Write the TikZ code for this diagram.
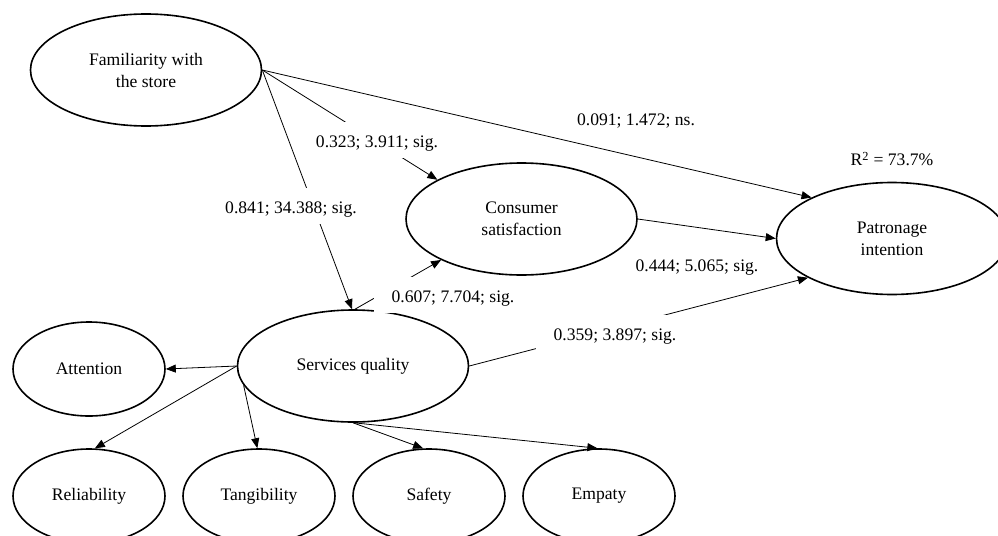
\documentclass[tikz,border=0pt]{standalone}
\usepackage{fontspec}
\setmainfont{Liberation Serif}
\usetikzlibrary{shapes.geometric,arrows.meta}
\begin{document}
\begin{tikzpicture}[x=0.75pt,y=-0.75pt,
  every node/.style={font=\fontsize{13.2}{16.5}\selectfont},
  bigell/.style={ellipse,draw,line width=1.2pt,minimum width=173.25pt,minimum height=84pt,inner sep=0pt,align=center},
  smallell/.style={ellipse,draw,line width=1.2pt,minimum width=114pt,minimum height=70.5pt,inner sep=0pt,align=center},
  conn/.style={line width=0.6pt,-{Triangle[length=7.5pt,width=6pt]}},
  coef/.style={fill=white,inner xsep=13.5pt,inner ysep=5pt,text height=14.5pt,text depth=2.6pt},
  coefplain/.style={inner sep=2pt}
]
\useasboundingbox (0,0) rectangle (998,535);
\clip (0,0) rectangle (998,535);

% constructs
\node[bigell] (fam) at (146,70) {Familiarity with\\the store};
\node[bigell] (con) at (521.5,219) {Consumer\\satisfaction};
\node[bigell] (pat) at (892,238.5) {Patronage\\intention};
\node[bigell] (sq) at (353,366) {Services quality};
\node[smallell] (att) at (89,369) {Attention};
\node[smallell] (rel) at (89,496) {Reliability};
\node[smallell] (tan) at (259,496) {Tangibility};
\node[smallell] (saf) at (429,496) {Safety};
\node[smallell] (emp) at (599,496) {Empaty};

% structural paths
\draw[conn] (fam.east) -- (pat.153.7);
\draw[conn] (fam.east) -- (con.155);
\draw[conn] (fam.east) -- (sq.91);
\draw[conn] (con.east) -- (pat.west);
\draw[conn] (sq.88) -- (con.207);
\draw[conn] (sq.east) -- (pat.205.2);

% measurement paths
\draw[conn] (sq.west) -- (att.east);
\draw[conn] (sq.west) -- (rel.83);
\draw[conn] (sq.190) -- (tan.92);
\draw[conn] (sq.south) -- (saf.97);
\draw[conn] (sq.271) -- (emp.92);

% coefficient labels
\node[coefplain] (l091) at (636,121) {0.091; 1.472; ns.};
\node[coef] (l323) at (377,140) {0.323; 3.911; sig.};
\node[coef] (l841) at (291,206) {0.841; 34.388; sig.};
\node[coefplain] (l444) at (697,268) {0.444; 5.065; sig.};
\node[coef] (l607) at (453,295) {0.607; 7.704; sig.};
\node[coef] (l359) at (615,333) {0.359; 3.897; sig.};
\node (r2) at (892,159) {R\textsuperscript{2} = 73.7\%};
\end{tikzpicture}
\end{document}
